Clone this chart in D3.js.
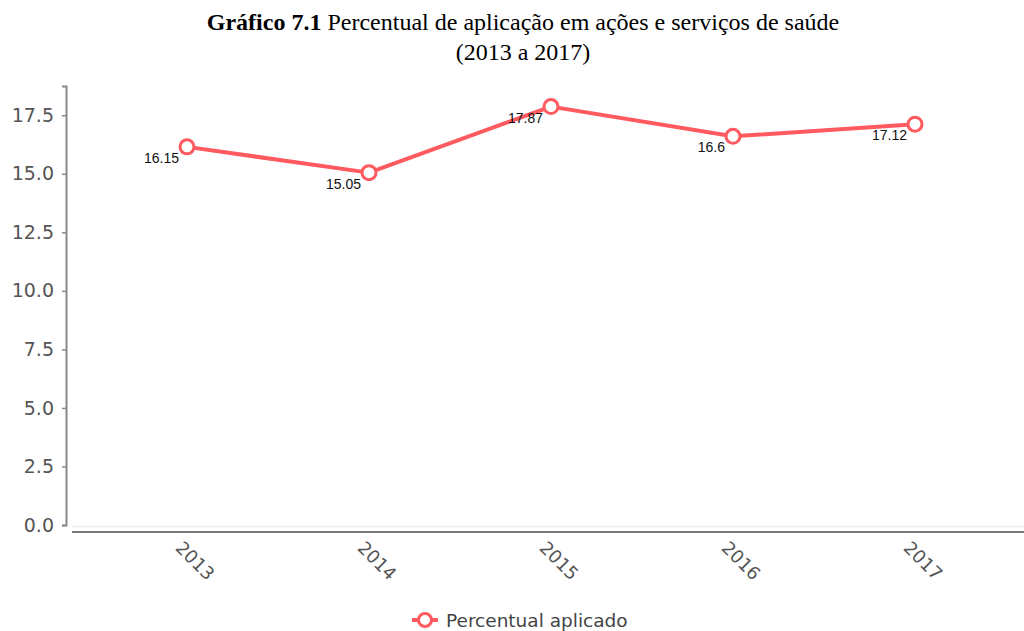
<!DOCTYPE html>
<html>
<head>
<meta charset="utf-8">
<script src="https://cdn.jsdelivr.net/npm/d3@7"></script>
<style>
  body { margin: 0; background: #fff; }
  #chart { width: 1024px; height: 631px; }
</style>
</head>
<body>
<div id="chart"></div>
<script>
const years = ['2013', '2014', '2015', '2016', '2017'];
const percentual = [16.15, 15.05, 17.87, 16.6, 17.12];
const yTicks = [0, 2.5, 5, 7.5, 10, 12.5, 15, 17.5];
const seriesName = 'Percentual aplicado';

const red = '#ff5a5f';

const svg = d3.select('#chart').append('svg')
  .attr('width', 1024)
  .attr('height', 631);

// title
const title = svg.append('text')
  .attr('x', 523)
  .attr('y', 30)
  .attr('text-anchor', 'middle')
  .style('font', '24px "Liberation Serif", "Times New Roman", serif')
  .style('fill', '#000');
title.append('tspan').style('font-weight', 'bold').text('Gráfico 7.1');
title.append('tspan').text(' Percentual de aplicação em ações e serviços de saúde');

svg.append('text')
  .attr('x', 523)
  .attr('y', 60)
  .attr('text-anchor', 'middle')
  .style('font', '24px "Liberation Serif", "Times New Roman", serif')
  .text('(2013 a 2017)');

const x = d3.scalePoint()
  .domain(years)
  .range([187, 915]);

const y = d3.scaleLinear()
  .domain([0, 18.75])
  .range([525, 86]);

// plot bottom border
svg.append('line')
  .attr('x1', 72).attr('x2', 1024)
  .attr('y1', 526.5).attr('y2', 526.5)
  .attr('stroke', '#eeeeee')
  .attr('stroke-width', 1.5);

// y axis
const yAxis = svg.append('g')
  .attr('transform', 'translate(66,0)')
  .call(d3.axisLeft(y).tickValues(yTicks).tickFormat(d3.format('.1f')).tickSize(4).tickPadding(8));
yAxis.select('.domain').attr('stroke', '#888').attr('stroke-width', 2);
yAxis.selectAll('.tick line').attr('stroke', '#888').attr('stroke-width', 1.5);
yAxis.selectAll('.tick text')
  .style('font', '19px "DejaVu Sans", Verdana, sans-serif')
  .style('fill', '#555');

// x axis
const xAxis = svg.append('g')
  .attr('transform', 'translate(0,532)')
  .call(d3.axisBottom(x).tickSize(0).tickPadding(0));
xAxis.select('.domain').remove();
xAxis.append('line')
  .attr('x1', 72).attr('x2', 1024)
  .attr('stroke', '#777')
  .attr('stroke-width', 2);
xAxis.selectAll('.tick text')
  .attr('text-anchor', 'start')
  .attr('dy', null)
  .attr('y', null)
  .attr('transform', 'translate(-13,17) rotate(45)')
  .style('font', '18px "DejaVu Sans", Verdana, sans-serif')
  .style('fill', '#555');

// line
const line = d3.line()
  .x((d, i) => x(years[i]))
  .y(d => y(d));

svg.append('path')
  .datum(percentual)
  .attr('d', line)
  .attr('fill', 'none')
  .attr('stroke', red)
  .attr('stroke-width', 4)
  .attr('stroke-linejoin', 'round');

svg.selectAll('circle.pt')
  .data(percentual)
  .join('circle')
    .attr('class', 'pt')
    .attr('cx', (d, i) => x(years[i]))
    .attr('cy', d => y(d))
    .attr('r', 7)
    .attr('fill', '#fff')
    .attr('stroke', red)
    .attr('stroke-width', 3);

svg.selectAll('text.lbl')
  .data(percentual)
  .join('text')
    .attr('class', 'lbl')
    .attr('x', (d, i) => x(years[i]) - 8)
    .attr('y', d => y(d) + 16)
    .attr('text-anchor', 'end')
    .style('font', '14px "Liberation Sans", Arial, sans-serif')
    .style('fill', '#111')
    .text(d => d);

// legend
const legend = svg.append('g').attr('transform', 'translate(0,620)');
legend.append('line')
  .attr('x1', 412).attr('x2', 438)
  .attr('stroke', red).attr('stroke-width', 4);
legend.append('circle')
  .attr('cx', 425).attr('r', 6.5)
  .attr('fill', '#fff').attr('stroke', red).attr('stroke-width', 3);
legend.append('text')
  .attr('x', 446)
  .attr('y', 7)
  .style('font', '18.5px "DejaVu Sans", Verdana, sans-serif')
  .style('fill', '#444')
  .text(seriesName);
</script>
</body>
</html>
